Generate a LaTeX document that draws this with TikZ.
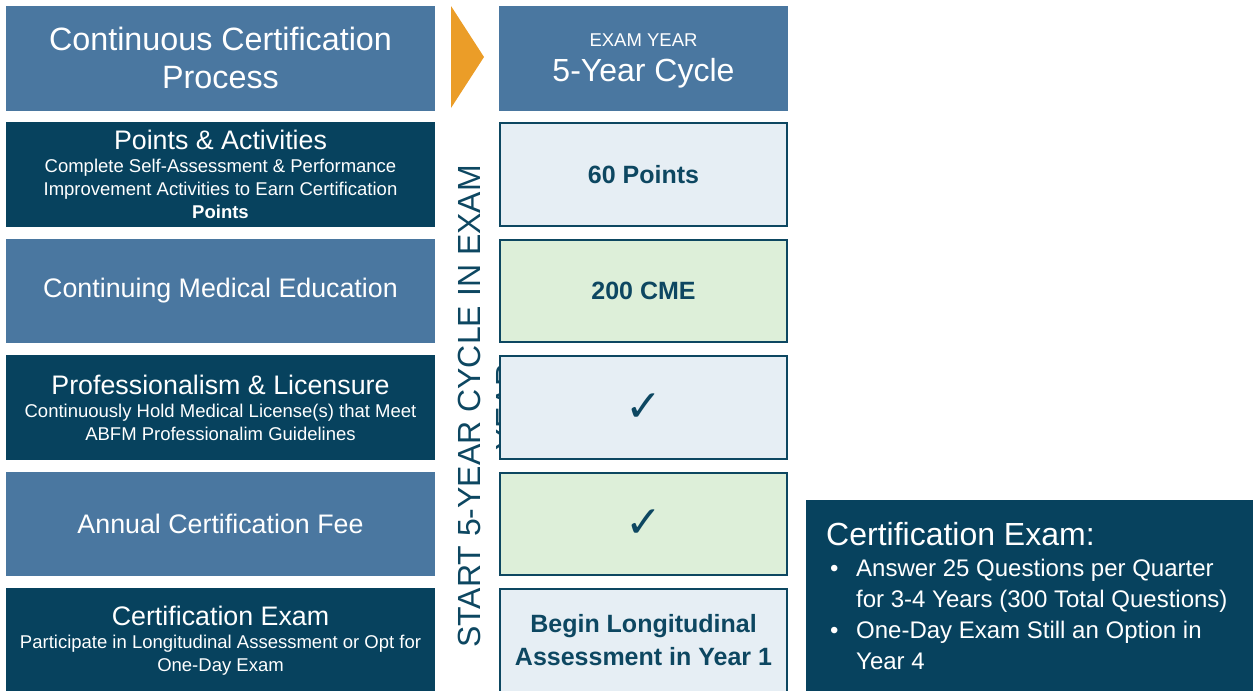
\documentclass[tikz,border=0pt]{standalone}
\usepackage{fontspec}
\setmainfont{Liberation Sans}
\newfontfamily\symbolfont{DejaVu Sans}
\usepackage{tikz}

\definecolor{midblue}{HTML}{4A77A0}
\definecolor{deepblue}{HTML}{07425E}
\definecolor{paleblue}{HTML}{E6EEF4}
\definecolor{palegreen}{HTML}{DDEFD9}
\definecolor{inkblue}{HTML}{0D4761}
\definecolor{arrowgold}{HTML}{EB9D28}

\newcommand{\rowhead}{\fontsize{26.8}{31}\selectfont}
\newcommand{\rowsub}{\fontsize{18.5}{23}\selectfont}
\newcommand{\tickmark}{{\symbolfont\fontsize{44}{44}\selectfont ✓}}

\begin{document}
\begin{tikzpicture}[x=1pt,y=-1pt,
	leftbox/.style={rectangle, inner sep=0pt, minimum width=429pt, minimum height=104.5pt,
		align=center, text=white, font=\rowsub},
	rightbox/.style={rectangle, draw=inkblue, line width=2pt, inner sep=0pt,
		minimum width=287pt, minimum height=102.5pt, align=center,
		text=inkblue, font=\fontsize{25}{33}\selectfont\bfseries}]
				\useasboundingbox (0,0) rectangle (1259,691);

				% left column
				\node[leftbox, fill=midblue, font=\fontsize{32.3}{38}\selectfont] (process) at (220.5,58.25) {Continuous Certification\\Process};
				\node[leftbox, fill=deepblue] (points) at (220.5,174.65) {{\rowhead Points \& Activities}\\Complete Self-Assessment \& Performance\\Improvement Activities to Earn Certification\\\textbf{Points}};
				\node[leftbox, fill=midblue] (cme) at (220.5,291.05) {{\rowhead Continuing Medical Education}};
				\node[leftbox, fill=deepblue] (license) at (220.5,407.45) {{\rowhead Professionalism \& Licensure}\\Continuously Hold Medical License(s) that Meet\\ABFM Professionalim Guidelines};
				\node[leftbox, fill=midblue] (fee) at (220.5,523.85) {{\rowhead Annual Certification Fee}};
				\node[leftbox, fill=deepblue] (exam) at (220.5,640.25) {{\rowhead Certification Exam}\\Participate in Longitudinal Assessment or Opt for\\One-Day Exam};

				% arrow
				\fill[arrowgold] (451,6) -- (484,57) -- (451,108) -- cycle;

				% vertical text
				\node[rotate=90, inner sep=0pt, align=center, text=inkblue,
					font=\fontsize{32}{38.5}\selectfont] (cycle) at (488.5,406.5) {START 5-YEAR CYCLE IN EXAM\\YEAR};

				% right column
				\node[rectangle, fill=midblue, inner sep=0pt, minimum width=289pt, minimum height=104.5pt,
					align=center, text=white, font=\fontsize{32}{35}\selectfont] (cyclehead) at (643.5,58.25)
					{{\fontsize{18.5}{22}\selectfont\rule{0pt}{19pt}EXAM YEAR}\\5-Year Cycle};
				\node[rightbox, fill=paleblue] (pointsgoal) at (643.5,174.65) {60 Points};
				\node[rightbox, fill=palegreen] (cmegoal) at (643.5,291.05) {200 CME};
				\node[rightbox, fill=paleblue] (licensegoal) at (643.5,407.45) {\tickmark};
				\node[rightbox, fill=palegreen] (feegoal) at (643.5,523.85) {\tickmark};
				\node[rightbox, fill=paleblue] (examgoal) at (643.5,640.25) {Begin Longitudinal\\Assessment in Year 1};

				% exam details
				\node[rectangle, fill=deepblue, anchor=north west, inner sep=0pt,
					minimum width=447pt, minimum height=191pt] (details) at (806,500) {};
				\node[anchor=west, inner sep=0pt, align=left, text=white, font=\fontsize{24}{31}\selectfont]
					(detailtext) at ([xshift=20pt]details.west)
					{{\fontsize{32}{36}\selectfont Certification Exam:}\\
					\hspace*{4pt}\makebox[26pt][l]{\textbullet}Answer 25 Questions per Quarter\\
					\hspace*{30pt}for 3-4 Years (300 Total Questions)\\
					\hspace*{4pt}\makebox[26pt][l]{\textbullet}One-Day Exam Still an Option in\\
					\hspace*{30pt}Year 4};

			\end{tikzpicture}
\end{document}
